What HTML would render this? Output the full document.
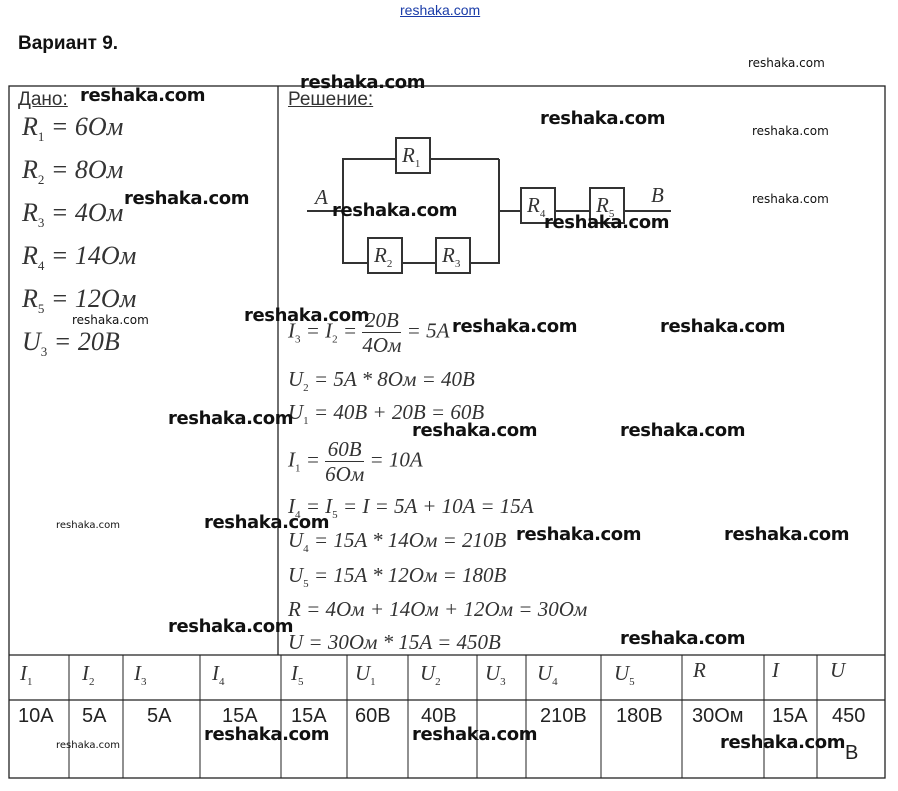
<!DOCTYPE html>
<html><head><meta charset="utf-8"><style>
body{margin:0;width:898px;height:791px;background:#fff;position:relative;overflow:hidden;font-family:"Liberation Sans",sans-serif}
.a{position:absolute;white-space:nowrap}
.w{position:absolute;font-family:"DejaVu Sans","Liberation Sans",sans-serif;font-weight:bold;font-size:18px;color:#111;white-space:nowrap;letter-spacing:-0.4px}
.ws{position:absolute;font-family:"DejaVu Sans",sans-serif;font-size:12px;color:#111;white-space:nowrap}
.f{position:absolute;font-family:"Liberation Serif",serif;font-size:26px;color:#333;white-space:nowrap;font-style:italic}
.f sub{font-size:13px;font-style:normal}
.g{position:absolute;font-family:"Liberation Serif",serif;font-size:21px;color:#333;white-space:nowrap;font-style:italic}
.g sub{font-size:11px;font-style:normal}
.fr{display:inline-block;vertical-align:middle;text-align:center;font-size:21px}
.fr span{display:block;line-height:24px}
.fr span:first-child{border-bottom:1px solid #333}
.c{position:absolute;font-size:20px;color:#222}
</style></head><body>
<div class="a" style="left:400px;top:2px;font-size:14px;color:#1a3ca8;text-decoration:underline">reshaka.com</div>
<div class="a" style="left:18px;top:33px;font-size:19px;font-weight:bold;color:#111">Вариант 9.</div>
<svg class="a" style="left:0;top:0" width="898" height="791">
<g fill="none" stroke="#222" stroke-width="1.3">
<rect x="9" y="86" width="876" height="692"/>
<line x1="278" y1="86" x2="278" y2="655"/>
<line x1="9" y1="655" x2="885" y2="655"/>
<line x1="9" y1="700" x2="885" y2="700"/>
<g stroke-width="1">
<line x1="69" y1="655" x2="69" y2="778"/><line x1="123" y1="655" x2="123" y2="778"/>
<line x1="200" y1="655" x2="200" y2="778"/><line x1="281" y1="655" x2="281" y2="778"/>
<line x1="347" y1="655" x2="347" y2="778"/><line x1="408" y1="655" x2="408" y2="778"/>
<line x1="477" y1="655" x2="477" y2="778"/><line x1="526" y1="655" x2="526" y2="778"/>
<line x1="601" y1="655" x2="601" y2="778"/><line x1="682" y1="655" x2="682" y2="778"/>
<line x1="764" y1="655" x2="764" y2="778"/><line x1="817" y1="655" x2="817" y2="778"/>
</g>
<g stroke="#333" stroke-width="2">
<polyline points="396,159 343,159 343,263 368,263"/>
<line x1="430" y1="159" x2="499" y2="159"/>
<line x1="402" y1="263" x2="436" y2="263"/>
<polyline points="470,263 499,263 499,159"/>
<line x1="307" y1="211" x2="343" y2="211"/>
<line x1="499" y1="211" x2="521" y2="211"/>
<line x1="555" y1="211" x2="590" y2="211"/>
<line x1="624" y1="211" x2="671" y2="211"/>
<rect x="396" y="138" width="34" height="35"/>
<rect x="368" y="238" width="34" height="35"/>
<rect x="436" y="238" width="34" height="35"/>
<rect x="521" y="188" width="34" height="35"/>
<rect x="590" y="188" width="34" height="35"/>
</g></g>
</svg>
<div class="g" style="left:402px;top:143px">R<sub>1</sub></div>
<div class="g" style="left:374px;top:243px">R<sub>2</sub></div>
<div class="g" style="left:442px;top:243px">R<sub>3</sub></div>
<div class="g" style="left:527px;top:193px">R<sub>4</sub></div>
<div class="g" style="left:596px;top:193px">R<sub>5</sub></div>
<div class="g" style="left:315px;top:185px">A</div>
<div class="g" style="left:651px;top:183px">B</div>

<div class="a" style="left:18px;top:89px;font-size:19px;color:#333;text-decoration:underline">Дано:</div>
<div class="a" style="left:288px;top:89px;font-size:19px;color:#333;text-decoration:underline">Решение:</div>

<div class="f" style="left:22px;top:112px">R<sub>1</sub> = 6Ом</div>
<div class="f" style="left:22px;top:155px">R<sub>2</sub> = 8Ом</div>
<div class="f" style="left:22px;top:198px">R<sub>3</sub> = 4Ом</div>
<div class="f" style="left:22px;top:241px">R<sub>4</sub> = 14Ом</div>
<div class="f" style="left:22px;top:284px">R<sub>5</sub> = 12Ом</div>
<div class="f" style="left:22px;top:327px">U<sub>3</sub> = 20B</div>

<div class="g" style="left:288px;top:308px">I<sub>3</sub> = I<sub>2</sub> = <span class="fr"><span>20B</span><span>4Ом</span></span> = 5A</div>
<div class="g" style="left:288px;top:367px">U<sub>2</sub> = 5A * 8Ом = 40B</div>
<div class="g" style="left:288px;top:400px">U<sub>1</sub> = 40B + 20B = 60B</div>
<div class="g" style="left:288px;top:437px">I<sub>1</sub> = <span class="fr"><span>60B</span><span>6Ом</span></span> = 10A</div>
<div class="g" style="left:288px;top:494px">I<sub>4</sub> = I<sub>5</sub> = I = 5A + 10A = 15A</div>
<div class="g" style="left:288px;top:528px">U<sub>4</sub> = 15A * 14Ом = 210B</div>
<div class="g" style="left:288px;top:563px">U<sub>5</sub> = 15A * 12Ом = 180B</div>
<div class="g" style="left:288px;top:597px">R = 4Ом + 14Ом + 12Ом = 30Ом</div>
<div class="g" style="left:288px;top:630px">U = 30Ом * 15A = 450B</div>

<div class="g" style="left:20px;top:661px">I<sub>1</sub></div>
<div class="g" style="left:82px;top:661px">I<sub>2</sub></div>
<div class="g" style="left:134px;top:661px">I<sub>3</sub></div>
<div class="g" style="left:212px;top:661px">I<sub>4</sub></div>
<div class="g" style="left:291px;top:661px">I<sub>5</sub></div>
<div class="g" style="left:355px;top:661px">U<sub>1</sub></div>
<div class="g" style="left:420px;top:661px">U<sub>2</sub></div>
<div class="g" style="left:485px;top:661px">U<sub>3</sub></div>
<div class="g" style="left:537px;top:661px">U<sub>4</sub></div>
<div class="g" style="left:614px;top:661px">U<sub>5</sub></div>
<div class="g" style="left:693px;top:658px">R</div>
<div class="g" style="left:772px;top:658px">I</div>
<div class="g" style="left:830px;top:658px">U</div>

<div class="c" style="left:18px;top:705px">10A</div>
<div class="c" style="left:82px;top:705px">5A</div>
<div class="c" style="left:147px;top:705px">5A</div>
<div class="c" style="left:222px;top:705px">15A</div>
<div class="c" style="left:291px;top:705px">15A</div>
<div class="c" style="left:355px;top:705px">60B</div>
<div class="c" style="left:421px;top:705px">40B</div>
<div class="c" style="left:540px;top:705px">210B</div>
<div class="c" style="left:616px;top:705px">180B</div>
<div class="c" style="left:692px;top:705px">30Ом</div>
<div class="c" style="left:772px;top:705px">15A</div>
<div class="c" style="left:832px;top:705px">450</div>
<div class="c" style="left:845px;top:742px">B</div>

<div class="ws" style="left:748px;top:56px">reshaka.com</div>
<div class="ws" style="left:752px;top:124px">reshaka.com</div>
<div class="ws" style="left:752px;top:192px">reshaka.com</div>
<div class="ws" style="left:72px;top:313px">reshaka.com</div>
<div class="ws" style="left:56px;top:520px;font-size:10px">reshaka.com</div>
<div class="ws" style="left:56px;top:740px;font-size:10px">reshaka.com</div>
<div class="w" style="left:300px;top:72px">reshaka.com</div>
<div class="w" style="left:80px;top:85px">reshaka.com</div>
<div class="w" style="left:540px;top:108px">reshaka.com</div>
<div class="w" style="left:124px;top:188px">reshaka.com</div>
<div class="w" style="left:332px;top:200px">reshaka.com</div>
<div class="w" style="left:544px;top:212px">reshaka.com</div>
<div class="w" style="left:244px;top:305px">reshaka.com</div>
<div class="w" style="left:452px;top:316px">reshaka.com</div>
<div class="w" style="left:660px;top:316px">reshaka.com</div>
<div class="w" style="left:168px;top:408px">reshaka.com</div>
<div class="w" style="left:412px;top:420px">reshaka.com</div>
<div class="w" style="left:620px;top:420px">reshaka.com</div>
<div class="w" style="left:204px;top:512px">reshaka.com</div>
<div class="w" style="left:516px;top:524px">reshaka.com</div>
<div class="w" style="left:724px;top:524px">reshaka.com</div>
<div class="w" style="left:168px;top:616px">reshaka.com</div>
<div class="w" style="left:620px;top:628px">reshaka.com</div>
<div class="w" style="left:204px;top:724px">reshaka.com</div>
<div class="w" style="left:412px;top:724px">reshaka.com</div>
<div class="w" style="left:720px;top:732px">reshaka.com</div>
</body></html>
